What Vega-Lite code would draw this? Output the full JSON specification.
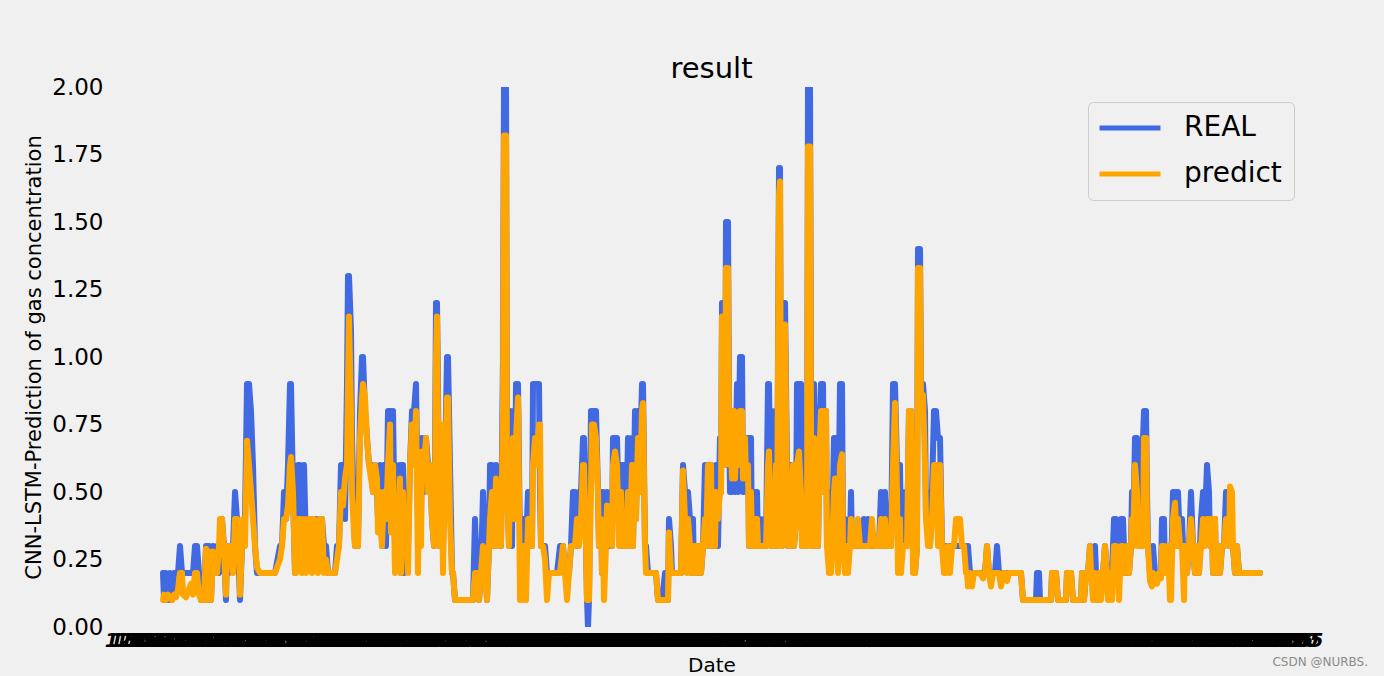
{
  "$schema": "https://vega.github.io/schema/vega-lite/v6.json",
  "autosize": {"type": "none"},
  "padding": {"left": 108, "top": 87, "right": 69, "bottom": 49},
  "width": 1207,
  "height": 540,
  "background": "#f0f0f0",
  "title": {"text": "result", "fontSize": 29, "font": "DejaVu Sans", "fontWeight": "normal", "color": "#000000", "anchor": "middle", "frame": "group", "offset": -8},
  "data": {"values": [
{"t":163,"REAL":0.2,"predict":0.1},{"t":164,"REAL":0.1,"predict":0.12},{"t":166,"REAL":0.2,"predict":0.1},{"t":168,"REAL":0.1,"predict":0.12},
{"t":170,"REAL":0.2,"predict":0.11},{"t":172,"REAL":0.1,"predict":0.1},{"t":174,"REAL":0.2,"predict":0.12},{"t":176,"REAL":0.2,"predict":0.11},
{"t":178,"REAL":0.2,"predict":0.14},{"t":180,"REAL":0.3,"predict":0.2},{"t":182,"REAL":0.2,"predict":0.2},{"t":183,"REAL":0.2,"predict":0.12},
{"t":186,"REAL":0.2,"predict":0.11},{"t":189,"REAL":0.2,"predict":0.14},{"t":191,"REAL":0.2,"predict":0.16},{"t":193,"REAL":0.2,"predict":0.12},
{"t":195,"REAL":0.3,"predict":0.2},{"t":197,"REAL":0.3,"predict":0.2},{"t":199,"REAL":0.2,"predict":0.12},{"t":201,"REAL":0.1,"predict":0.1},
{"t":204,"REAL":0.1,"predict":0.1},{"t":206,"REAL":0.3,"predict":0.29},{"t":207,"REAL":0.1,"predict":0.1},{"t":209,"REAL":0.3,"predict":0.28},
{"t":211,"REAL":0.1,"predict":0.1},{"t":213,"REAL":0.3,"predict":0.28},{"t":215,"REAL":0.2,"predict":0.27},{"t":217,"REAL":0.3,"predict":0.2},
{"t":219,"REAL":0.2,"predict":0.3},{"t":220,"REAL":0.3,"predict":0.4},{"t":222,"REAL":0.4,"predict":0.4},{"t":224,"REAL":0.3,"predict":0.28},
{"t":226,"REAL":0.1,"predict":0.12},{"t":227,"REAL":0.3,"predict":0.3},{"t":229,"REAL":0.2,"predict":0.25},{"t":231,"REAL":0.3,"predict":0.3},
{"t":233,"REAL":0.3,"predict":0.2},{"t":235,"REAL":0.5,"predict":0.4},{"t":237,"REAL":0.4,"predict":0.4},{"t":239,"REAL":0.2,"predict":0.3},
{"t":240,"REAL":0.1,"predict":0.12},{"t":242,"REAL":0.3,"predict":0.3},{"t":243,"REAL":0.3,"predict":0.4},{"t":245,"REAL":0.4,"predict":0.3},
{"t":247,"REAL":0.9,"predict":0.69},{"t":249,"REAL":0.9,"predict":0.6},{"t":251,"REAL":0.8,"predict":0.5},{"t":253,"REAL":0.6,"predict":0.4},
{"t":255,"REAL":0.3,"predict":0.3},{"t":257,"REAL":0.2,"predict":0.22},{"t":260,"REAL":0.2,"predict":0.2},{"t":265,"REAL":0.2,"predict":0.2},
{"t":270,"REAL":0.2,"predict":0.2},{"t":275,"REAL":0.2,"predict":0.2},{"t":280,"REAL":0.3,"predict":0.25},{"t":282,"REAL":0.3,"predict":0.3},
{"t":284,"REAL":0.5,"predict":0.4},{"t":286,"REAL":0.4,"predict":0.4},{"t":288,"REAL":0.6,"predict":0.45},{"t":290,"REAL":0.9,"predict":0.6},
{"t":291,"REAL":0.9,"predict":0.63},{"t":293,"REAL":0.5,"predict":0.5},{"t":295,"REAL":0.2,"predict":0.2},{"t":296,"REAL":0.3,"predict":0.2},
{"t":298,"REAL":0.6,"predict":0.4},{"t":300,"REAL":0.6,"predict":0.4},{"t":302,"REAL":0.3,"predict":0.2},{"t":304,"REAL":0.6,"predict":0.4},
{"t":306,"REAL":0.3,"predict":0.2},{"t":308,"REAL":0.3,"predict":0.4},{"t":310,"REAL":0.4,"predict":0.4},{"t":312,"REAL":0.3,"predict":0.2},
{"t":314,"REAL":0.4,"predict":0.4},{"t":316,"REAL":0.4,"predict":0.3},{"t":318,"REAL":0.3,"predict":0.2},{"t":320,"REAL":0.4,"predict":0.4},
{"t":322,"REAL":0.4,"predict":0.4},{"t":324,"REAL":0.3,"predict":0.2},{"t":326,"REAL":0.3,"predict":0.25},{"t":328,"REAL":0.2,"predict":0.2},
{"t":330,"REAL":0.2,"predict":0.2},{"t":335,"REAL":0.2,"predict":0.2},{"t":337,"REAL":0.3,"predict":0.25},{"t":339,"REAL":0.3,"predict":0.3},
{"t":341,"REAL":0.6,"predict":0.5},{"t":343,"REAL":0.6,"predict":0.45},{"t":345,"REAL":0.4,"predict":0.55},{"t":347,"REAL":0.9,"predict":0.6},
{"t":348,"REAL":1.3,"predict":0.9},{"t":349,"REAL":1.3,"predict":1.15},{"t":351,"REAL":1.1,"predict":0.8},{"t":352,"REAL":0.7,"predict":0.5},
{"t":354,"REAL":0.4,"predict":0.35},{"t":355,"REAL":0.3,"predict":0.3},{"t":357,"REAL":0.5,"predict":0.4},{"t":358,"REAL":0.3,"predict":0.3},
{"t":360,"REAL":0.8,"predict":0.7},{"t":362,"REAL":1.0,"predict":0.85},{"t":363,"REAL":1.0,"predict":0.9},{"t":365,"REAL":0.8,"predict":0.85},
{"t":367,"REAL":0.7,"predict":0.7},{"t":369,"REAL":0.6,"predict":0.6},{"t":371,"REAL":0.6,"predict":0.55},{"t":373,"REAL":0.5,"predict":0.5},
{"t":375,"REAL":0.6,"predict":0.6},{"t":377,"REAL":0.5,"predict":0.55},{"t":378,"REAL":0.4,"predict":0.35},{"t":380,"REAL":0.6,"predict":0.5},
{"t":382,"REAL":0.3,"predict":0.3},{"t":384,"REAL":0.6,"predict":0.5},{"t":386,"REAL":0.3,"predict":0.4},{"t":388,"REAL":0.8,"predict":0.6},
{"t":390,"REAL":0.8,"predict":0.75},{"t":391,"REAL":0.5,"predict":0.35},{"t":393,"REAL":0.8,"predict":0.6},{"t":395,"REAL":0.3,"predict":0.2},
{"t":396,"REAL":0.6,"predict":0.45},{"t":398,"REAL":0.3,"predict":0.3},{"t":400,"REAL":0.6,"predict":0.55},{"t":401,"REAL":0.2,"predict":0.2},
{"t":403,"REAL":0.6,"predict":0.5},{"t":404,"REAL":0.2,"predict":0.3},{"t":406,"REAL":0.5,"predict":0.4},{"t":408,"REAL":0.3,"predict":0.2},
{"t":410,"REAL":0.6,"predict":0.6},{"t":412,"REAL":0.8,"predict":0.75},{"t":414,"REAL":0.8,"predict":0.6},{"t":416,"REAL":0.9,"predict":0.8},
{"t":418,"REAL":0.4,"predict":0.2},{"t":419,"REAL":0.6,"predict":0.5},{"t":421,"REAL":0.4,"predict":0.3},{"t":422,"REAL":0.7,"predict":0.65},
{"t":424,"REAL":0.5,"predict":0.6},{"t":426,"REAL":0.7,"predict":0.7},{"t":428,"REAL":0.6,"predict":0.5},{"t":430,"REAL":0.6,"predict":0.6},
{"t":432,"REAL":0.4,"predict":0.4},{"t":434,"REAL":0.3,"predict":0.3},{"t":435,"REAL":0.6,"predict":0.5},{"t":436,"REAL":1.2,"predict":1.0},
{"t":437,"REAL":1.2,"predict":1.15},{"t":438,"REAL":0.9,"predict":0.75},{"t":439,"REAL":0.3,"predict":0.3},{"t":441,"REAL":0.6,"predict":0.75},
{"t":443,"REAL":0.3,"predict":0.2},{"t":445,"REAL":0.6,"predict":0.6},{"t":447,"REAL":1.0,"predict":0.85},{"t":448,"REAL":1.0,"predict":0.85},
{"t":450,"REAL":0.6,"predict":0.4},{"t":452,"REAL":0.2,"predict":0.2},{"t":453,"REAL":0.2,"predict":0.2},{"t":455,"REAL":0.1,"predict":0.1},
{"t":460,"REAL":0.1,"predict":0.1},{"t":465,"REAL":0.1,"predict":0.1},{"t":470,"REAL":0.1,"predict":0.1},{"t":473,"REAL":0.1,"predict":0.1},
{"t":475,"REAL":0.4,"predict":0.2},{"t":477,"REAL":0.2,"predict":0.2},{"t":479,"REAL":0.1,"predict":0.1},{"t":481,"REAL":0.2,"predict":0.2},
{"t":483,"REAL":0.5,"predict":0.3},{"t":485,"REAL":0.3,"predict":0.2},{"t":487,"REAL":0.1,"predict":0.1},{"t":489,"REAL":0.3,"predict":0.3},
{"t":490,"REAL":0.6,"predict":0.4},{"t":492,"REAL":0.6,"predict":0.5},{"t":494,"REAL":0.3,"predict":0.3},{"t":496,"REAL":0.6,"predict":0.55},
{"t":497,"REAL":0.3,"predict":0.3},{"t":499,"REAL":0.5,"predict":0.45},{"t":501,"REAL":0.3,"predict":0.3},{"t":503,"REAL":1.0,"predict":0.8},
{"t":504,"REAL":2.0,"predict":1.82},{"t":506,"REAL":2.0,"predict":1.82},{"t":507,"REAL":0.6,"predict":0.5},{"t":509,"REAL":0.3,"predict":0.3},
{"t":510,"REAL":0.8,"predict":0.6},{"t":512,"REAL":0.3,"predict":0.4},{"t":513,"REAL":0.8,"predict":0.7},{"t":515,"REAL":0.4,"predict":0.4},
{"t":516,"REAL":0.9,"predict":0.7},{"t":518,"REAL":0.9,"predict":0.85},{"t":519,"REAL":0.6,"predict":0.5},{"t":520,"REAL":0.3,"predict":0.1},
{"t":522,"REAL":0.4,"predict":0.3},{"t":523,"REAL":0.3,"predict":0.1},{"t":525,"REAL":0.4,"predict":0.3},{"t":526,"REAL":0.3,"predict":0.1},
{"t":528,"REAL":0.5,"predict":0.4},{"t":529,"REAL":0.3,"predict":0.3},{"t":531,"REAL":0.5,"predict":0.4},{"t":532,"REAL":0.3,"predict":0.3},
{"t":533,"REAL":0.9,"predict":0.6},{"t":535,"REAL":0.9,"predict":0.7},{"t":537,"REAL":0.9,"predict":0.6},{"t":539,"REAL":0.9,"predict":0.75},
{"t":540,"REAL":0.5,"predict":0.75},{"t":541,"REAL":0.3,"predict":0.3},{"t":543,"REAL":0.3,"predict":0.3},{"t":545,"REAL":0.3,"predict":0.25},
{"t":547,"REAL":0.2,"predict":0.1},{"t":549,"REAL":0.2,"predict":0.2},{"t":553,"REAL":0.2,"predict":0.2},{"t":557,"REAL":0.2,"predict":0.2},
{"t":560,"REAL":0.3,"predict":0.2},{"t":563,"REAL":0.3,"predict":0.3},{"t":565,"REAL":0.2,"predict":0.2},{"t":567,"REAL":0.2,"predict":0.1},
{"t":569,"REAL":0.2,"predict":0.2},{"t":571,"REAL":0.3,"predict":0.3},{"t":573,"REAL":0.5,"predict":0.3},{"t":575,"REAL":0.5,"predict":0.3},
{"t":577,"REAL":0.3,"predict":0.4},{"t":579,"REAL":0.5,"predict":0.3},{"t":581,"REAL":0.5,"predict":0.4},{"t":583,"REAL":0.7,"predict":0.6},
{"t":584,"REAL":0.7,"predict":0.6},{"t":586,"REAL":0.3,"predict":0.3},{"t":587,"REAL":0.1,"predict":0.1},{"t":588,"REAL":0.0,"predict":0.1},
{"t":589,"REAL":0.1,"predict":0.1},{"t":591,"REAL":0.8,"predict":0.5},{"t":592,"REAL":0.8,"predict":0.75},{"t":594,"REAL":0.8,"predict":0.75},
{"t":596,"REAL":0.8,"predict":0.7},{"t":598,"REAL":0.5,"predict":0.5},{"t":599,"REAL":0.3,"predict":0.3},{"t":601,"REAL":0.5,"predict":0.4},
{"t":602,"REAL":0.2,"predict":0.2},{"t":603,"REAL":0.5,"predict":0.3},{"t":604,"REAL":0.2,"predict":0.1},{"t":606,"REAL":0.4,"predict":0.3},
{"t":607,"REAL":0.5,"predict":0.45},{"t":609,"REAL":0.3,"predict":0.4},{"t":611,"REAL":0.5,"predict":0.4},{"t":612,"REAL":0.3,"predict":0.3},
{"t":613,"REAL":0.7,"predict":0.6},{"t":615,"REAL":0.7,"predict":0.65},{"t":617,"REAL":0.7,"predict":0.6},{"t":619,"REAL":0.4,"predict":0.3},
{"t":621,"REAL":0.6,"predict":0.5},{"t":622,"REAL":0.3,"predict":0.3},{"t":624,"REAL":0.6,"predict":0.4},{"t":626,"REAL":0.3,"predict":0.3},
{"t":628,"REAL":0.7,"predict":0.5},{"t":630,"REAL":0.3,"predict":0.3},{"t":632,"REAL":0.7,"predict":0.6},{"t":633,"REAL":0.3,"predict":0.3},
{"t":635,"REAL":0.8,"predict":0.6},{"t":636,"REAL":0.4,"predict":0.4},{"t":638,"REAL":0.8,"predict":0.7},{"t":640,"REAL":0.6,"predict":0.5},
{"t":642,"REAL":0.9,"predict":0.8},{"t":643,"REAL":0.9,"predict":0.83},{"t":645,"REAL":0.3,"predict":0.3},{"t":646,"REAL":0.3,"predict":0.2},
{"t":648,"REAL":0.2,"predict":0.2},{"t":652,"REAL":0.2,"predict":0.2},{"t":656,"REAL":0.2,"predict":0.2},{"t":658,"REAL":0.1,"predict":0.1},
{"t":662,"REAL":0.1,"predict":0.1},{"t":665,"REAL":0.2,"predict":0.1},{"t":666,"REAL":0.1,"predict":0.1},{"t":668,"REAL":0.1,"predict":0.1},
{"t":669,"REAL":0.4,"predict":0.35},{"t":671,"REAL":0.3,"predict":0.2},{"t":672,"REAL":0.2,"predict":0.2},{"t":674,"REAL":0.2,"predict":0.2},
{"t":678,"REAL":0.2,"predict":0.2},{"t":681,"REAL":0.2,"predict":0.2},{"t":683,"REAL":0.6,"predict":0.58},{"t":685,"REAL":0.5,"predict":0.4},
{"t":687,"REAL":0.3,"predict":0.2},{"t":688,"REAL":0.5,"predict":0.4},{"t":690,"REAL":0.4,"predict":0.3},{"t":691,"REAL":0.2,"predict":0.2},
{"t":693,"REAL":0.4,"predict":0.3},{"t":694,"REAL":0.2,"predict":0.2},{"t":696,"REAL":0.3,"predict":0.3},{"t":697,"REAL":0.2,"predict":0.2},
{"t":699,"REAL":0.3,"predict":0.3},{"t":701,"REAL":0.2,"predict":0.2},{"t":703,"REAL":0.3,"predict":0.3},{"t":705,"REAL":0.6,"predict":0.4},
{"t":706,"REAL":0.3,"predict":0.3},{"t":708,"REAL":0.6,"predict":0.6},{"t":709,"REAL":0.3,"predict":0.3},{"t":711,"REAL":0.6,"predict":0.6},
{"t":712,"REAL":0.3,"predict":0.3},{"t":713,"REAL":0.5,"predict":0.5},{"t":715,"REAL":0.3,"predict":0.3},{"t":716,"REAL":0.6,"predict":0.5},
{"t":718,"REAL":0.3,"predict":0.4},{"t":720,"REAL":0.7,"predict":0.5},{"t":721,"REAL":0.5,"predict":0.5},{"t":722,"REAL":1.2,"predict":1.15},
{"t":724,"REAL":1.2,"predict":1.15},{"t":725,"REAL":0.6,"predict":0.6},{"t":726,"REAL":1.5,"predict":1.33},{"t":728,"REAL":1.5,"predict":1.33},
{"t":729,"REAL":0.8,"predict":0.7},{"t":730,"REAL":0.5,"predict":0.6},{"t":731,"REAL":0.8,"predict":0.7},{"t":732,"REAL":0.5,"predict":0.55},
{"t":734,"REAL":0.7,"predict":0.8},{"t":735,"REAL":0.5,"predict":0.55},{"t":737,"REAL":0.9,"predict":0.75},{"t":738,"REAL":0.5,"predict":0.6},
{"t":740,"REAL":1.0,"predict":0.8},{"t":742,"REAL":1.0,"predict":0.8},{"t":743,"REAL":0.5,"predict":0.55},{"t":745,"REAL":0.7,"predict":0.7},
{"t":746,"REAL":0.5,"predict":0.55},{"t":748,"REAL":0.7,"predict":0.6},{"t":749,"REAL":0.3,"predict":0.3},{"t":751,"REAL":0.7,"predict":0.5},
{"t":752,"REAL":0.3,"predict":0.3},{"t":754,"REAL":0.5,"predict":0.4},{"t":755,"REAL":0.3,"predict":0.3},{"t":757,"REAL":0.5,"predict":0.4},
{"t":758,"REAL":0.3,"predict":0.3},{"t":760,"REAL":0.4,"predict":0.3},{"t":762,"REAL":0.3,"predict":0.3},{"t":764,"REAL":0.4,"predict":0.3},
{"t":766,"REAL":0.3,"predict":0.3},{"t":768,"REAL":0.9,"predict":0.6},{"t":769,"REAL":0.9,"predict":0.65},{"t":771,"REAL":0.3,"predict":0.3},
{"t":772,"REAL":0.8,"predict":0.4},{"t":774,"REAL":0.3,"predict":0.3},{"t":776,"REAL":0.8,"predict":0.6},{"t":777,"REAL":0.3,"predict":0.3},
{"t":779,"REAL":1.7,"predict":1.6},{"t":780,"REAL":1.7,"predict":1.65},{"t":781,"REAL":0.6,"predict":0.6},{"t":782,"REAL":0.3,"predict":0.3},
{"t":783,"REAL":1.2,"predict":1.0},{"t":785,"REAL":1.2,"predict":1.12},{"t":787,"REAL":0.6,"predict":0.5},{"t":788,"REAL":0.3,"predict":0.3},
{"t":790,"REAL":0.6,"predict":0.5},{"t":791,"REAL":0.3,"predict":0.3},{"t":793,"REAL":0.6,"predict":0.6},{"t":794,"REAL":0.3,"predict":0.3},
{"t":796,"REAL":0.4,"predict":0.4},{"t":797,"REAL":0.9,"predict":0.6},{"t":799,"REAL":0.9,"predict":0.65},{"t":801,"REAL":0.9,"predict":0.5},
{"t":802,"REAL":0.3,"predict":0.3},{"t":804,"REAL":0.3,"predict":0.3},{"t":806,"REAL":0.4,"predict":0.3},{"t":807,"REAL":0.3,"predict":0.3},
{"t":808,"REAL":2.0,"predict":1.78},{"t":810,"REAL":2.0,"predict":1.78},{"t":811,"REAL":0.9,"predict":0.7},{"t":812,"REAL":0.3,"predict":0.3},
{"t":814,"REAL":0.9,"predict":0.7},{"t":815,"REAL":0.3,"predict":0.3},{"t":817,"REAL":0.5,"predict":0.6},{"t":818,"REAL":0.3,"predict":0.3},
{"t":820,"REAL":0.8,"predict":0.7},{"t":821,"REAL":0.9,"predict":0.8},{"t":823,"REAL":0.9,"predict":0.8},{"t":824,"REAL":0.5,"predict":0.5},
{"t":826,"REAL":0.8,"predict":0.8},{"t":827,"REAL":0.3,"predict":0.3},{"t":829,"REAL":0.3,"predict":0.2},{"t":831,"REAL":0.5,"predict":0.2},
{"t":832,"REAL":0.3,"predict":0.3},{"t":834,"REAL":0.7,"predict":0.5},{"t":835,"REAL":0.7,"predict":0.55},{"t":837,"REAL":0.4,"predict":0.3},
{"t":838,"REAL":0.3,"predict":0.2},{"t":840,"REAL":0.9,"predict":0.6},{"t":842,"REAL":0.9,"predict":0.64},{"t":843,"REAL":0.3,"predict":0.3},
{"t":845,"REAL":0.4,"predict":0.2},{"t":846,"REAL":0.3,"predict":0.3},{"t":848,"REAL":0.3,"predict":0.2},{"t":850,"REAL":0.3,"predict":0.3},
{"t":851,"REAL":0.5,"predict":0.4},{"t":852,"REAL":0.3,"predict":0.3},{"t":854,"REAL":0.3,"predict":0.3},{"t":856,"REAL":0.3,"predict":0.3},
{"t":858,"REAL":0.3,"predict":0.4},{"t":860,"REAL":0.3,"predict":0.3},{"t":862,"REAL":0.3,"predict":0.3},{"t":864,"REAL":0.4,"predict":0.3},
{"t":866,"REAL":0.3,"predict":0.3},{"t":868,"REAL":0.4,"predict":0.3},{"t":870,"REAL":0.3,"predict":0.3},{"t":872,"REAL":0.3,"predict":0.4},
{"t":874,"REAL":0.3,"predict":0.3},{"t":876,"REAL":0.3,"predict":0.3},{"t":879,"REAL":0.3,"predict":0.3},{"t":881,"REAL":0.5,"predict":0.4},
{"t":883,"REAL":0.3,"predict":0.3},{"t":885,"REAL":0.5,"predict":0.4},{"t":887,"REAL":0.3,"predict":0.3},{"t":889,"REAL":0.4,"predict":0.3},
{"t":891,"REAL":0.3,"predict":0.3},{"t":893,"REAL":0.9,"predict":0.6},{"t":895,"REAL":0.9,"predict":0.83},{"t":897,"REAL":0.6,"predict":0.5},
{"t":898,"REAL":0.3,"predict":0.2},{"t":900,"REAL":0.6,"predict":0.4},{"t":901,"REAL":0.3,"predict":0.2},{"t":903,"REAL":0.5,"predict":0.3},
{"t":905,"REAL":0.3,"predict":0.3},{"t":907,"REAL":0.3,"predict":0.3},{"t":909,"REAL":0.8,"predict":0.8},{"t":911,"REAL":0.8,"predict":0.8},
{"t":913,"REAL":0.3,"predict":0.2},{"t":915,"REAL":0.2,"predict":0.2},{"t":917,"REAL":0.3,"predict":0.3},{"t":918,"REAL":1.4,"predict":1.33},
{"t":920,"REAL":1.4,"predict":1.33},{"t":921,"REAL":0.9,"predict":0.8},{"t":923,"REAL":0.9,"predict":0.86},{"t":925,"REAL":0.8,"predict":0.6},
{"t":926,"REAL":0.4,"predict":0.4},{"t":928,"REAL":0.5,"predict":0.3},{"t":930,"REAL":0.3,"predict":0.3},{"t":932,"REAL":0.5,"predict":0.4},
{"t":934,"REAL":0.8,"predict":0.6},{"t":936,"REAL":0.8,"predict":0.6},{"t":938,"REAL":0.7,"predict":0.3},{"t":940,"REAL":0.7,"predict":0.6},
{"t":942,"REAL":0.3,"predict":0.3},{"t":944,"REAL":0.3,"predict":0.2},{"t":946,"REAL":0.3,"predict":0.2},{"t":948,"REAL":0.3,"predict":0.3},
{"t":950,"REAL":0.3,"predict":0.2},{"t":952,"REAL":0.3,"predict":0.3},{"t":954,"REAL":0.3,"predict":0.3},{"t":956,"REAL":0.3,"predict":0.4},
{"t":958,"REAL":0.3,"predict":0.4},{"t":960,"REAL":0.3,"predict":0.4},{"t":962,"REAL":0.3,"predict":0.3},{"t":964,"REAL":0.3,"predict":0.3},
{"t":966,"REAL":0.3,"predict":0.2},{"t":967,"REAL":0.2,"predict":0.2},{"t":968,"REAL":0.3,"predict":0.15},{"t":970,"REAL":0.2,"predict":0.2},
{"t":972,"REAL":0.2,"predict":0.15},{"t":974,"REAL":0.2,"predict":0.2},{"t":976,"REAL":0.2,"predict":0.2},{"t":978,"REAL":0.2,"predict":0.2},
{"t":980,"REAL":0.2,"predict":0.2},{"t":983,"REAL":0.2,"predict":0.18},{"t":985,"REAL":0.2,"predict":0.2},{"t":987,"REAL":0.3,"predict":0.3},
{"t":989,"REAL":0.2,"predict":0.2},{"t":991,"REAL":0.2,"predict":0.15},{"t":993,"REAL":0.2,"predict":0.2},{"t":995,"REAL":0.2,"predict":0.2},
{"t":997,"REAL":0.3,"predict":0.2},{"t":999,"REAL":0.2,"predict":0.2},{"t":1001,"REAL":0.2,"predict":0.15},{"t":1003,"REAL":0.2,"predict":0.2},
{"t":1005,"REAL":0.2,"predict":0.2},{"t":1007,"REAL":0.2,"predict":0.17},{"t":1009,"REAL":0.2,"predict":0.2},{"t":1011,"REAL":0.2,"predict":0.2},
{"t":1013,"REAL":0.2,"predict":0.2},{"t":1015,"REAL":0.2,"predict":0.2},{"t":1018,"REAL":0.2,"predict":0.2},{"t":1021,"REAL":0.2,"predict":0.2},
{"t":1023,"REAL":0.1,"predict":0.1},{"t":1026,"REAL":0.1,"predict":0.1},{"t":1030,"REAL":0.1,"predict":0.1},{"t":1034,"REAL":0.1,"predict":0.1},
{"t":1036,"REAL":0.1,"predict":0.1},{"t":1037,"REAL":0.2,"predict":0.1},{"t":1039,"REAL":0.2,"predict":0.1},{"t":1040,"REAL":0.1,"predict":0.1},
{"t":1044,"REAL":0.1,"predict":0.1},{"t":1048,"REAL":0.1,"predict":0.1},{"t":1051,"REAL":0.1,"predict":0.1},{"t":1052,"REAL":0.2,"predict":0.2},
{"t":1056,"REAL":0.2,"predict":0.2},{"t":1058,"REAL":0.1,"predict":0.1},{"t":1062,"REAL":0.1,"predict":0.1},{"t":1066,"REAL":0.1,"predict":0.1},
{"t":1067,"REAL":0.2,"predict":0.2},{"t":1071,"REAL":0.2,"predict":0.2},{"t":1073,"REAL":0.1,"predict":0.1},{"t":1077,"REAL":0.1,"predict":0.1},
{"t":1081,"REAL":0.1,"predict":0.1},{"t":1082,"REAL":0.2,"predict":0.2},{"t":1084,"REAL":0.1,"predict":0.1},{"t":1086,"REAL":0.2,"predict":0.2},
{"t":1088,"REAL":0.2,"predict":0.2},{"t":1090,"REAL":0.3,"predict":0.3},{"t":1091,"REAL":0.2,"predict":0.2},{"t":1093,"REAL":0.2,"predict":0.1},
{"t":1095,"REAL":0.3,"predict":0.2},{"t":1097,"REAL":0.1,"predict":0.1},{"t":1099,"REAL":0.2,"predict":0.2},{"t":1101,"REAL":0.2,"predict":0.1},
{"t":1103,"REAL":0.2,"predict":0.2},{"t":1105,"REAL":0.3,"predict":0.3},{"t":1107,"REAL":0.2,"predict":0.2},{"t":1108,"REAL":0.2,"predict":0.1},
{"t":1110,"REAL":0.2,"predict":0.2},{"t":1112,"REAL":0.2,"predict":0.1},{"t":1114,"REAL":0.4,"predict":0.3},{"t":1116,"REAL":0.4,"predict":0.3},
{"t":1118,"REAL":0.2,"predict":0.2},{"t":1119,"REAL":0.2,"predict":0.1},{"t":1121,"REAL":0.4,"predict":0.3},{"t":1123,"REAL":0.4,"predict":0.3},
{"t":1125,"REAL":0.2,"predict":0.2},{"t":1127,"REAL":0.3,"predict":0.3},{"t":1129,"REAL":0.2,"predict":0.2},{"t":1131,"REAL":0.3,"predict":0.3},
{"t":1132,"REAL":0.5,"predict":0.4},{"t":1133,"REAL":0.3,"predict":0.3},{"t":1135,"REAL":0.7,"predict":0.6},{"t":1137,"REAL":0.7,"predict":0.5},
{"t":1138,"REAL":0.4,"predict":0.3},{"t":1140,"REAL":0.4,"predict":0.3},{"t":1141,"REAL":0.3,"predict":0.3},{"t":1143,"REAL":0.7,"predict":0.3},
{"t":1144,"REAL":0.8,"predict":0.7},{"t":1146,"REAL":0.8,"predict":0.7},{"t":1147,"REAL":0.5,"predict":0.4},{"t":1148,"REAL":0.3,"predict":0.3},
{"t":1150,"REAL":0.2,"predict":0.17},{"t":1152,"REAL":0.2,"predict":0.15},{"t":1153,"REAL":0.3,"predict":0.2},{"t":1155,"REAL":0.2,"predict":0.18},
{"t":1157,"REAL":0.2,"predict":0.16},{"t":1159,"REAL":0.2,"predict":0.2},{"t":1161,"REAL":0.2,"predict":0.18},{"t":1162,"REAL":0.4,"predict":0.3},
{"t":1164,"REAL":0.4,"predict":0.3},{"t":1165,"REAL":0.2,"predict":0.2},{"t":1168,"REAL":0.3,"predict":0.3},{"t":1170,"REAL":0.2,"predict":0.1},
{"t":1171,"REAL":0.2,"predict":0.1},{"t":1173,"REAL":0.5,"predict":0.4},{"t":1175,"REAL":0.5,"predict":0.46},{"t":1177,"REAL":0.3,"predict":0.3},
{"t":1178,"REAL":0.5,"predict":0.4},{"t":1180,"REAL":0.3,"predict":0.3},{"t":1182,"REAL":0.4,"predict":0.3},{"t":1184,"REAL":0.2,"predict":0.1},
{"t":1185,"REAL":0.3,"predict":0.3},{"t":1187,"REAL":0.2,"predict":0.2},{"t":1189,"REAL":0.3,"predict":0.3},{"t":1191,"REAL":0.5,"predict":0.4},
{"t":1193,"REAL":0.3,"predict":0.3},{"t":1195,"REAL":0.2,"predict":0.2},{"t":1197,"REAL":0.3,"predict":0.3},{"t":1199,"REAL":0.2,"predict":0.2},
{"t":1201,"REAL":0.4,"predict":0.3},{"t":1203,"REAL":0.5,"predict":0.4},{"t":1205,"REAL":0.4,"predict":0.3},{"t":1207,"REAL":0.6,"predict":0.4},
{"t":1209,"REAL":0.5,"predict":0.4},{"t":1210,"REAL":0.3,"predict":0.3},{"t":1212,"REAL":0.4,"predict":0.4},{"t":1213,"REAL":0.2,"predict":0.2},
{"t":1215,"REAL":0.4,"predict":0.4},{"t":1216,"REAL":0.2,"predict":0.2},{"t":1218,"REAL":0.3,"predict":0.3},{"t":1220,"REAL":0.2,"predict":0.2},
{"t":1222,"REAL":0.3,"predict":0.3},{"t":1224,"REAL":0.3,"predict":0.3},{"t":1226,"REAL":0.5,"predict":0.4},{"t":1228,"REAL":0.5,"predict":0.4},
{"t":1229,"REAL":0.3,"predict":0.3},{"t":1230,"REAL":0.3,"predict":0.52},{"t":1232,"REAL":0.3,"predict":0.5},{"t":1233,"REAL":0.3,"predict":0.3},
{"t":1235,"REAL":0.2,"predict":0.2},{"t":1237,"REAL":0.3,"predict":0.3},{"t":1239,"REAL":0.2,"predict":0.2},{"t":1245,"REAL":0.2,"predict":0.2},
{"t":1250,"REAL":0.2,"predict":0.2},{"t":1255,"REAL":0.2,"predict":0.2},{"t":1260,"REAL":0.2,"predict":0.2}
  ]},
  "layer": [
    {
      "transform": [{"fold": ["REAL", "predict"], "as": ["series", "value"]}],
      "mark": {"type": "line", "strokeWidth": 6, "strokeCap": "round", "strokeJoin": "round", "clip": true},
      "encoding": {
        "x": {
          "field": "t", "type": "quantitative",
          "scale": {"domain": [108, 1315], "nice": false, "zero": false},
          "axis": {
            "title": "Date", "grid": false, "domain": false, "ticks": false, "tickSize": 0,
            "tickCount": 300, "format": "d",
            "labelExpr": "datum.value < 125 || datum.value > 1295 ? '' : datum.label",
            "labelFontSize": 20, "labelFont": "DejaVu Sans", "labelFontStyle": "italic", "labelFontWeight": "bold",
            "labelColor": "#000000", "labelOverlap": false, "labelFlush": false, "labelPadding": 3,
            "titleFontSize": 20, "titleFont": "DejaVu Sans", "titleFontWeight": "normal", "titleColor": "#000000", "titlePadding": 5
          }
        },
        "y": {
          "field": "value", "type": "quantitative",
          "scale": {"domain": [0, 2], "nice": false, "zero": false},
          "axis": {
            "title": "CNN-LSTM-Prediction of gas concentration",
            "values": [0, 0.25, 0.5, 0.75, 1, 1.25, 1.5, 1.75, 2], "format": ".2f",
            "grid": false, "domain": false, "ticks": false, "tickSize": 0,
            "labelFontSize": 23, "labelFont": "DejaVu Sans", "labelColor": "#000000", "labelPadding": 5,
            "labelOverlap": false, "labelFlush": false,
            "titleFontSize": 21, "titleFont": "DejaVu Sans", "titleFontWeight": "normal", "titleColor": "#000000", "titlePadding": 7
          }
        },
        "color": {
          "field": "series", "type": "nominal",
          "scale": {"domain": ["REAL", "predict"], "range": ["#4169e1", "#ffa500"]},
          "legend": {
            "title": null, "orient": "none", "legendX": 980, "legendY": 15,
            "labelFontSize": 28, "labelFont": "DejaVu Sans", "labelColor": "#000000",
            "symbolType": "M-3,0H3", "symbolSize": 413, "symbolStrokeWidth": 5, "symbolOffset": 16,
            "labelOffset": 40, "padding": 12, "rowPadding": 18,
            "strokeColor": "#cccccc", "fillColor": "#f0f0f0", "cornerRadius": 5
          }
        }
      }
    },
    {
      "data": {"values": [{"label": "CSDN @NURBS."}]},
      "mark": {"type": "text", "align": "right", "baseline": "middle", "fontSize": 12, "font": "DejaVu Sans", "color": "#8a8a8a", "clip": false},
      "encoding": {
        "x": {"datum": 1368, "type": "quantitative"},
        "y": {"datum": -0.13, "type": "quantitative"},
        "text": {"field": "label", "type": "nominal"}
      }
    }
  ],
  "config": {"view": {"stroke": null}, "font": "DejaVu Sans"}
}
